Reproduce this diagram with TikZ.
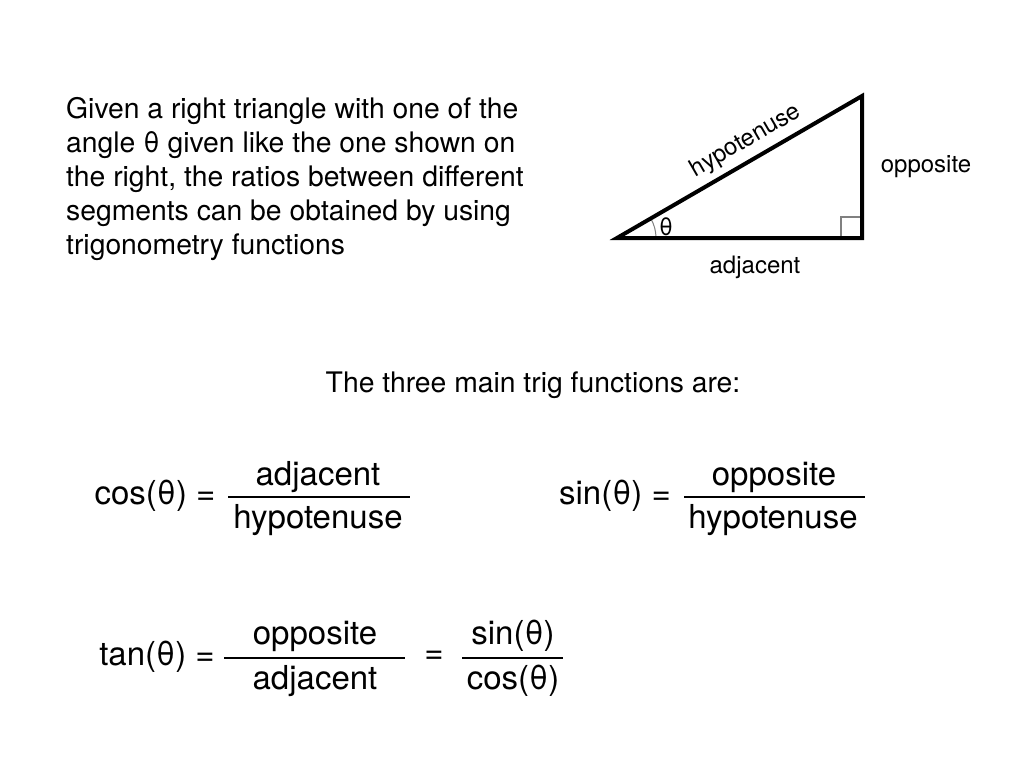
\documentclass[tikz,border=0pt]{standalone}
\usepackage{fontspec}
\setmainfont{TeX Gyre Heros}
\begin{document}
\begin{tikzpicture}[x=1pt,y=-1pt,
  para/.style={anchor=base west,inner sep=0pt,font=\fontsize{28.3}{34}\selectfont},
  lbl/.style={inner sep=0pt,font=\fontsize{24}{28}\selectfont},
  frm/.style={inner sep=0pt,font=\fontsize{33}{38}\selectfont},
  side/.style={line width=4pt,line join=miter},
  bar/.style={line width=2.8pt}]
\useasboundingbox (0,0) rectangle (1024,768);
% paragraph
\node[para] (p1) at (66,118) {Given a right triangle with one of the};
\node[para] (p2) at (66,152) {angle θ given like the one shown on};
\node[para] (p3) at (66,186) {the right, the ratios between different};
\node[para] (p4) at (66,220) {segments can be obtained by using};
\node[para] (p5) at (66,254) {trigonometry functions};
% triangle
\coordinate (A) at (617,238);
\coordinate (B) at (862,238);
\coordinate (C) at (862,96);
\draw[gray,line width=1.2pt] (841,238) -- (841,217) -- (862,217);
\draw[gray,line width=1pt] (656,238) arc[start angle=0,end angle=-30.1,radius=39];
\draw[side] (A) -- (B) -- (C) -- cycle;
\node[lbl] (th) at (666,227) {θ};
\node[lbl,rotate=30.1] (hyp) at (746,141) {hypotenuse};
\node[lbl] (opp) at (926,167) {opposite};
\node[lbl] (adj) at (755,267) {adjacent};
% title
\node[anchor=base,inner sep=0pt,font=\fontsize{28.3}{34}\selectfont] (title) at (533,392) {The three main trig functions are:};
% cos
\node[frm] (cosl) at (155,496) {cos(θ) =};
\node[frm] (cosn) at (318,477) {adjacent};
\node[frm] (cosd) at (318,520) {hypotenuse};
\coordinate (cb1) at (228,497); \coordinate (cb2) at (410,497);
\draw[bar] (cb1) -- (cb2);
% sin
\node[frm] (sinl) at (615,496) {sin(θ) =};
\node[frm] (sinn) at (774,477) {opposite};
\node[frm] (sind) at (773,520) {hypotenuse};
\coordinate (sb1) at (684,497); \coordinate (sb2) at (865,497);
\draw[bar] (sb1) -- (sb2);
% tan
\node[frm] (tanl) at (157,657) {tan(θ) =};
\node[frm] (tann) at (315,636) {opposite};
\node[frm] (tand) at (315,681) {adjacent};
\coordinate (tb1) at (224,658); \coordinate (tb2) at (405,658);
\draw[bar] (tb1) -- (tb2);
\node[frm] (eq) at (434,657) {=};
\node[frm] (scn) at (513,636) {sin(θ)};
\node[frm] (scd) at (513,681) {cos(θ)};
\coordinate (rb1) at (462,658); \coordinate (rb2) at (563,658);
\draw[bar] (rb1) -- (rb2);
\end{tikzpicture}
\end{document}
